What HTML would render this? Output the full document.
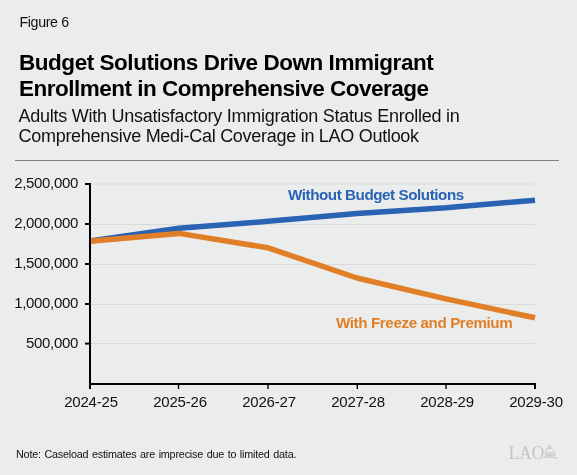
<!DOCTYPE html>
<html><head><meta charset="utf-8">
<style>
html,body{margin:0;padding:0;background:#ebedec;width:577px;height:475px;overflow:hidden}
svg{display:block;will-change:transform}
text{font-family:"Liberation Sans",sans-serif}
</style></head>
<body>
<svg width="577" height="475" viewBox="0 0 577 475">
<rect x="0" y="0" width="577" height="475" fill="#ebedec"/>
<text transform="translate(19.4,26.8) scale(0.92,1)" x="0" y="0" font-size="15.5" fill="#111" letter-spacing="-0.38">Figure 6</text>
<text x="19" y="69.8" font-size="22.5" font-weight="bold" fill="#000" letter-spacing="-0.46">Budget Solutions Drive Down Immigrant</text>
<text x="19" y="95.8" font-size="22.5" font-weight="bold" fill="#000" letter-spacing="-0.5">Enrollment in Comprehensive Coverage</text>
<text x="18.5" y="121.6" font-size="18" fill="#111" letter-spacing="-0.25">Adults With Unsatisfactory Immigration Status Enrolled in</text>
<text x="18.5" y="141.6" font-size="18" fill="#111" letter-spacing="-0.28">Comprehensive Medi-Cal Coverage in LAO Outlook</text>
<line x1="15" y1="160.5" x2="559" y2="160.5" stroke="#808285" stroke-width="1"/>

<g stroke="#d9dada" stroke-width="1">
<line x1="91" y1="184" x2="535" y2="184" stroke="#dddede"/>
<line x1="91" y1="224.5" x2="535" y2="224.5"/>
<line x1="91" y1="264.5" x2="535" y2="264.5"/>
<line x1="91" y1="304.5" x2="535" y2="304.5"/>
<line x1="91" y1="343.5" x2="535" y2="343.5"/>
</g>
<g font-size="15" fill="#111" text-anchor="end" letter-spacing="-0.33">
<text x="78" y="187.8">2,500,000</text>
<text x="78" y="227.8">2,000,000</text>
<text x="78" y="267.8">1,500,000</text>
<text x="78" y="307.8">1,000,000</text>
<text x="78" y="347.8">500,000</text>
</g>
<g font-size="15" fill="#111" text-anchor="middle" letter-spacing="-0.2">
<text x="91" y="406.8">2024-25</text>
<text x="180" y="406.8">2025-26</text>
<text x="269" y="406.8">2026-27</text>
<text x="358" y="406.8">2027-28</text>
<text x="447" y="406.8">2028-29</text>
<text x="536" y="406.8">2029-30</text>
</g>
<polyline fill="none" stroke="#2a62b4" stroke-width="5.5" stroke-linejoin="round" points="90,241 179,228.3 268,221.3 357,213.4 446,207.8 535,200.2"/>
<polyline fill="none" stroke="#e07f27" stroke-width="5.5" stroke-linejoin="round" points="90,241.2 179,233.4 268,247.8 357,278 446,298.9 535,317.8"/>
<g stroke="#000" fill="none">
<line x1="90" y1="183" x2="90" y2="389" stroke-width="2"/>
<line x1="89" y1="384" x2="536" y2="384" stroke-width="2"/>
<line x1="85" y1="184" x2="90" y2="184" stroke-width="2"/>
<line x1="85" y1="224" x2="90" y2="224" stroke-width="2"/>
<line x1="85" y1="264" x2="90" y2="264" stroke-width="2"/>
<line x1="85" y1="304" x2="90" y2="304" stroke-width="2"/>
<line x1="85" y1="343.6" x2="90" y2="343.6" stroke-width="2"/>
<line x1="178.5" y1="384" x2="178.5" y2="389" stroke-width="1.4"/>
<line x1="268" y1="384" x2="268" y2="389" stroke-width="1.4"/>
<line x1="357.3" y1="384" x2="357.3" y2="389" stroke-width="1.4"/>
<line x1="446" y1="384" x2="446" y2="389" stroke-width="1.4"/>
<line x1="535" y1="383" x2="535" y2="389" stroke-width="2"/>
</g>
<text x="288" y="200" font-size="15.2" font-weight="bold" fill="#2a62b4" letter-spacing="-0.44">Without Budget Solutions</text>
<text x="336" y="328.2" font-size="15.2" font-weight="bold" fill="#e07f27" letter-spacing="-0.4">With Freeze and Premium</text>
<text x="16" y="457.8" font-size="10.8" fill="#111" letter-spacing="-0.2" word-spacing="0.8">Note: Caseload estimates are imprecise due to limited data.</text>
<text transform="translate(508.8,458.6) scale(0.93,1)" x="0" y="0" style="font-family:'Liberation Serif',serif" font-size="18.6" fill="#c3c4c4">LAO</text>
<g stroke="#c9caca" fill="none" stroke-width="1">
<rect x="548.4" y="445.6" width="2.2" height="2"/>
<path d="M547,448.4 H551.6 Q554.8,450 555.2,454"/>
<path d="M547,448.4 Q545.6,450.4 545.4,452.6"/>
<path d="M545,452.8 H553.8 M544.8,454.2 H555 M545.2,455.6 H555.6"/>
<path d="M543.3,457.6 Q545,456.8 549,456.9 Q553.5,457 557.4,458.4" stroke-width="1.1"/>
</g>
</svg>
</body></html>
